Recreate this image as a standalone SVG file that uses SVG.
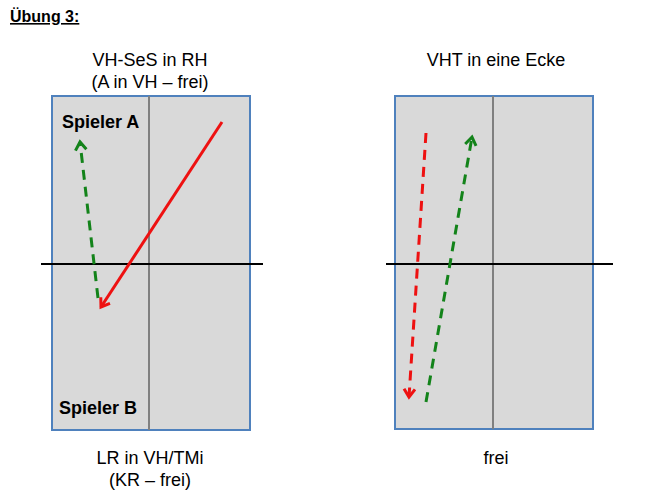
<svg xmlns="http://www.w3.org/2000/svg" width="665" height="500" viewBox="0 0 665 500">
<style>
.t{font-family:"Liberation Sans",Arial,sans-serif;font-size:18px;fill:#000;text-anchor:middle}
.b{font-family:"Liberation Sans",Arial,sans-serif;font-size:18px;font-weight:bold;fill:#000}
.tbl{fill:#d9d9d9;stroke:#4f81bd;stroke-width:2}
.mid{stroke:#808080;stroke-width:2}
.net{stroke:#000;stroke-width:2}
.red{stroke:#ee1111;stroke-width:3;fill:none}
.grn{stroke:#13831a;stroke-width:3;fill:none}
.dash{stroke-dasharray:10 7}
</style>
<defs>
<marker id="ar" markerWidth="14" markerHeight="14" refX="10" refY="7" orient="auto" markerUnits="userSpaceOnUse" viewBox="0 0 14 14"><path d="M2,1.5 L10,7 L2,12.5" fill="none" stroke="#ee1111" stroke-width="3"/></marker>
<marker id="ag" markerWidth="14" markerHeight="14" refX="10" refY="7" orient="auto" markerUnits="userSpaceOnUse" viewBox="0 0 14 14"><path d="M2,1.5 L10,7 L2,12.5" fill="none" stroke="#13831a" stroke-width="3"/></marker>
</defs>
<text x="10" y="22" style="font-family:'Liberation Sans',Arial,sans-serif;font-size:16px;font-weight:bold;text-decoration:underline">Übung 3:</text>
<g id="table-left">
<rect class="tbl" x="52" y="96" width="198" height="334"/>
<line class="mid" x1="149" y1="96" x2="149" y2="430"/>
<line class="net" x1="41" y1="264" x2="263" y2="264"/>
</g>
<g id="table-right">
<rect class="tbl" x="395" y="96" width="198" height="333"/>
<line class="mid" x1="493" y1="96" x2="493" y2="429"/>
<line class="net" x1="386" y1="264" x2="613" y2="264"/>
</g>
<g id="labels">
<text class="t" x="150" y="66">VH-SeS in RH</text>
<text class="t" x="150" y="88">(A in VH – frei)</text>
<text class="t" x="496" y="66">VHT in eine Ecke</text>
<text class="t" x="150" y="464">LR in VH/TMi</text>
<text class="t" x="150" y="486">(KR – frei)</text>
<text class="t" x="496" y="464">frei</text>
<text class="b" x="62" y="128">Spieler A</text>
<text class="b" x="59" y="414">Spieler B</text>
</g>
<g id="connectors">
<line class="red" x1="222" y1="122" x2="101" y2="307" marker-end="url(#ar)"/>
<line class="grn dash" x1="98" y1="298" x2="80" y2="142" marker-end="url(#ag)"/>
<line class="red dash" x1="426" y1="133" x2="409" y2="397" marker-end="url(#ar)"/>
<line class="grn dash" x1="426" y1="402" x2="472" y2="137" marker-end="url(#ag)"/>
</g>
</svg>
